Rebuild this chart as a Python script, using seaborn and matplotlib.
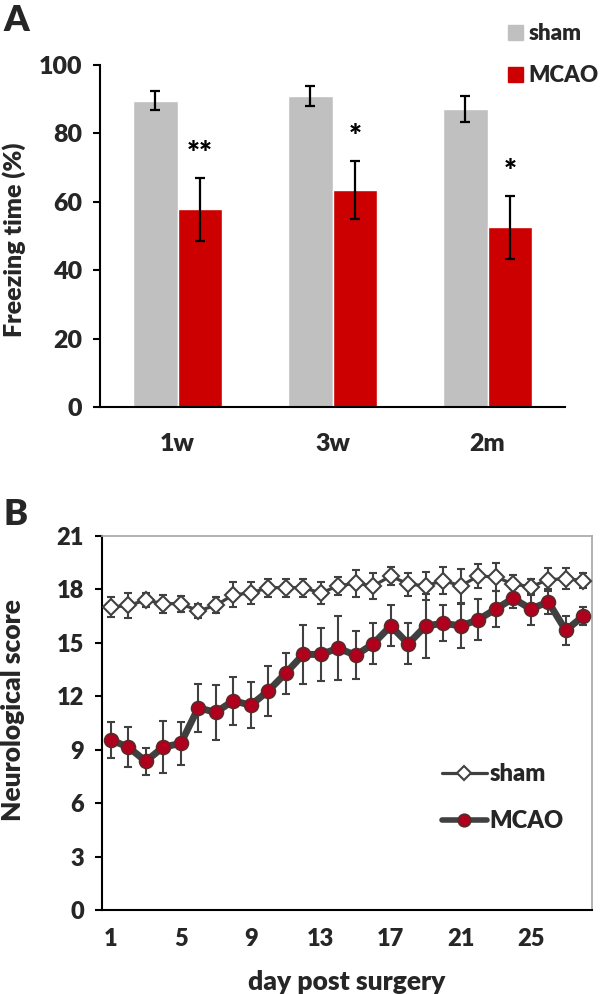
import matplotlib
matplotlib.use('Agg')
import matplotlib.pyplot as plt
import seaborn as sns
import pandas as pd
from matplotlib.patches import Patch
from matplotlib.lines import Line2D

# ---- data ----
timepoints = ['1w', '3w', '2m']
sham_freeze = [89.6, 90.9, 87.0]
sham_freeze_err = [2.7, 3.0, 3.8]
mcao_freeze = [57.8, 63.5, 52.5]
mcao_freeze_err = [9.2, 8.5, 9.1]
stars = ['**', '*', '*']

days = list(range(1, 29))
sham_score = [17.0, 17.1, 17.4, 17.2, 17.2, 16.8, 17.1, 17.7, 17.8, 18.1, 18.1, 18.1, 17.8, 18.2,
              18.35, 18.2, 18.75, 18.3, 18.2, 18.5, 18.2, 18.75, 18.7, 18.3, 18.15, 18.55, 18.6, 18.5]
sham_score_err = [0.55, 0.7, 0.4, 0.5, 0.45, 0.4, 0.45, 0.7, 0.6, 0.5, 0.5, 0.5, 0.6, 0.5,
                  0.75, 0.75, 0.5, 0.65, 0.8, 0.75, 0.95, 0.65, 0.8, 0.5, 0.45, 0.65, 0.6, 0.4]
mcao_score = [9.55, 9.15, 8.35, 9.15, 9.35, 11.35, 11.1, 11.75, 11.5, 12.3, 13.3, 14.35, 14.35, 14.7,
              14.3, 14.95, 15.95, 14.95, 15.95, 16.1, 15.95, 16.3, 16.9, 17.5, 16.9, 17.3, 15.7, 16.5]
mcao_score_err = [1.0, 1.1, 0.75, 1.45, 1.2, 1.35, 1.55, 1.35, 1.3, 1.4, 1.15, 1.65, 1.5, 1.8,
                  1.35, 1.15, 1.15, 1.15, 1.8, 1.0, 1.25, 1.15, 1.0, 0.55, 0.9, 0.7, 0.8, 0.5]
day_labels = [1, 5, 9, 13, 17, 21, 25]

sns.set_theme(style='white')
plt.rcParams['font.family'] = ['Lato', 'DejaVu Sans']
W = 'heavy'
plt.rcParams['font.weight'] = W
plt.rcParams['axes.labelweight'] = W

fig = plt.figure(figsize=(6, 9.94), dpi=100)
axA = fig.add_axes([100/600, 1-407/994, 465/600, 342/994])
axB = fig.add_axes([102/600, 1-910/994, 490/600, 374/994])

# ---- Panel A ----
SHAM_C = '#c0c0c0'
MCAO_C = '#cc0000'
df = pd.DataFrame({'time': timepoints * 2,
                   'group': ['sham'] * 3 + ['MCAO'] * 3,
                   'value': sham_freeze + mcao_freeze})
sns.barplot(data=df, x='time', y='value', hue='group', order=timepoints,
            hue_order=['sham', 'MCAO'], palette={'sham': SHAM_C, 'MCAO': MCAO_C},
            width=0.58, errorbar=None, saturation=1, ax=axA, legend=False)
errs = [sham_freeze_err, mcao_freeze_err]
vals = [sham_freeze, mcao_freeze]
for cont, v, e in zip(axA.containers, vals, errs):
    xs = [b.get_x() + b.get_width() / 2 for b in cont]
    axA.errorbar(xs, v, yerr=e, fmt='none', ecolor='black', elinewidth=1.6,
                 capsize=3.3, capthick=1.6, zorder=5)
mc = axA.containers[1]
for b, s, v, e in zip(mc, stars, mcao_freeze, mcao_freeze_err):
    axA.text(b.get_x() + b.get_width() / 2, v + e + 3, s, ha='center', va='bottom',
             fontsize=22, fontweight=W, color='black')

axA.set_xlim(-0.5, 2.5)
axA.set_ylim(0, 100)
axA.set_yticks(range(0, 101, 20))
axA.set_xticks(range(3))
axA.set_xticklabels(timepoints)
axA.set_xticks([-0.5, 0.5, 1.5, 2.5], minor=True)
axA.tick_params(axis='x', which='major', length=0, pad=19, labelsize=18)
axA.tick_params(axis='x', which='minor', length=9, width=1.5, direction='out', color='black')
axA.tick_params(axis='y', which='major', length=5, width=1.5, direction='out', labelsize=18,
                pad=8, left=True, color='black')
axA.set_xlabel('')
axA.set_ylabel('Freezing time (%)', fontsize=18, fontweight=W)
axA.yaxis.set_label_coords(-0.159, 0.49)
for s in ['top', 'right']:
    axA.spines[s].set_visible(False)
for s in ['left', 'bottom']:
    axA.spines[s].set_color('black')
    axA.spines[s].set_linewidth(1.5)

fig.legend(handles=[Patch(color=SHAM_C, label='sham'), Patch(color=MCAO_C, label='MCAO')],
           loc='upper left', bbox_to_anchor=(508/600, 1-23/994), frameon=False,
           handlelength=0.68, handleheight=0.64, handletextpad=0.25,
           labelspacing=0.95, borderpad=0, borderaxespad=0,
           prop={'weight': W, 'size': 16})

# ---- Panel B ----
LINE_C = '#404040'
axB.errorbar(days, sham_score, yerr=sham_score_err, fmt='none', ecolor=LINE_C,
             elinewidth=1.5, capsize=3, capthick=1.5, zorder=1)
axB.errorbar(days, mcao_score, yerr=mcao_score_err, fmt='none', ecolor=LINE_C,
             elinewidth=1.5, capsize=3, capthick=1.5, zorder=1)
sns.lineplot(x=days, y=sham_score, ax=axB, color=LINE_C, lw=2.3, marker='D', markersize=8,
             markerfacecolor='white', markeredgecolor=LINE_C, markeredgewidth=1.5, zorder=3)
sns.lineplot(x=days, y=mcao_score, ax=axB, color=LINE_C, lw=5, marker='o', markersize=10,
             markerfacecolor='#b0001e', markeredgecolor='#5a2a2a', markeredgewidth=1.2, zorder=3)

axB.set_xlim(0.5, 28.5)
axB.set_ylim(0, 21)
axB.set_yticks(range(0, 22, 3))
axB.set_xticks(day_labels)
axB.set_xticks([d + 0.5 for d in [0] + days], minor=True)
axB.tick_params(axis='x', which='major', length=0, pad=13, labelsize=17)
axB.tick_params(axis='x', which='minor', length=6, width=1.5, direction='out', color='black')
axB.tick_params(axis='y', which='major', length=5, width=1.5, direction='out', labelsize=17,
                pad=8, left=True, color='black')
axB.set_xlabel('day post surgery', fontsize=19, fontweight=W, labelpad=14)
axB.set_ylabel('Neurological score', fontsize=19, fontweight=W)
axB.yaxis.set_label_coords(-0.157, 0.535)
for s in ['left', 'bottom']:
    axB.spines[s].set_color('black')
    axB.spines[s].set_linewidth(1.5)
for s in ['top', 'right']:
    axB.spines[s].set_color('#a6a6a6')
    axB.spines[s].set_linewidth(1.2)

axB.legend(handles=[
    Line2D([], [], color=LINE_C, lw=2.3, marker='D', markersize=7, markerfacecolor='white',
           markeredgecolor=LINE_C, markeredgewidth=1.5, label='sham'),
    Line2D([], [], color=LINE_C, lw=4, marker='o', markersize=9, markerfacecolor='#b0001e',
           markeredgecolor='#5a2a2a', markeredgewidth=1.2, label='MCAO')],
    loc='upper left', bbox_to_anchor=((442 - 102) / 490, (910 - 763) / 374), frameon=False,
    handlelength=1.9, handletextpad=0.12, labelspacing=1.08, borderpad=0, borderaxespad=0,
    prop={'weight': W, 'size': 17})

fig.text(3/600, 1-4/994, 'A', fontsize=26, fontweight=W, va='top', ha='left')
fig.text(3/600, 1-498/994, 'B', fontsize=26, fontweight=W, va='top', ha='left')

fig.savefig('out.png', dpi=100)
